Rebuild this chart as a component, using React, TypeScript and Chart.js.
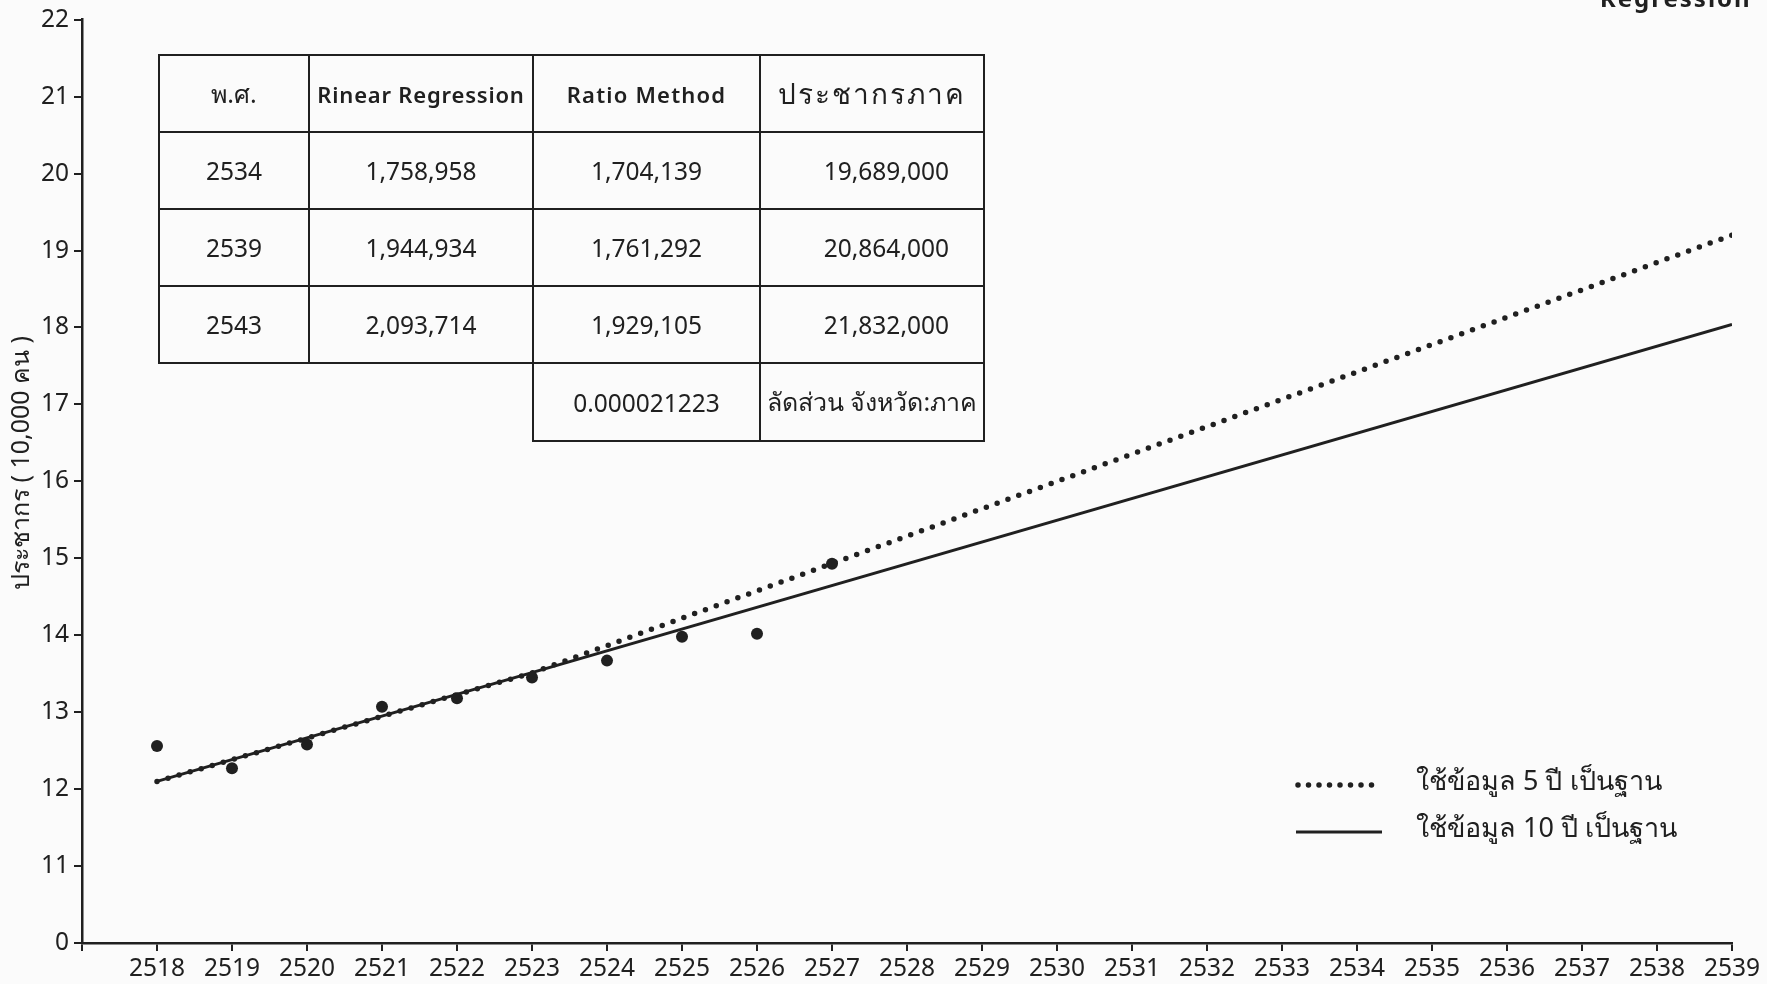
import React, { useEffect, useRef } from "react";
import { Chart, registerables } from "chart.js";

Chart.register(...registerables);

// ---------- data ----------
const observedYears = [2518, 2519, 2520, 2521, 2522, 2523, 2524, 2525, 2526, 2527];
const observedValues = [12.56, 12.27, 12.58, 13.07, 13.18, 13.45, 13.67, 13.98, 14.02, 14.93];

const fiveYearYears = [2518, 2523, 2539];
const fiveYearValues = [12.1, 13.51, 19.2];

const tenYearYears = [2518, 2539];
const tenYearValues = [12.1, 18.04];

const xMin = 2517;
const xMax = 2539;
const yMin = 10; // shown as "0" (broken axis)
const yMax = 22;
const yBreakLabel = "0";

const yAxisTitle = "ประชากร ( 10,000 คน )";
const legendLabels = ["ใช้ข้อมูล 5 ปี เป็นฐาน", "ใช้ข้อมูล 10 ปี เป็นฐาน"];
const topRightText = "Regression";

const tableHeader = ["พ.ศ.", "Rinear Regression", "Ratio Method", "ประชากรภาค"];
const tableYears = ["2534", "2539", "2543"];
const tableLinear = ["1,758,958", "1,944,934", "2,093,714"];
const tableRatio = ["1,704,139", "1,761,292", "1,929,105"];
const tableRegion = ["19,689,000", "20,864,000", "21,832,000"];
const ratioValue = "0.000021223";
const ratioLabel = "ลัดส่วน จังหวัด:ภาค";

// ---------- styles ----------
const INK = "#202020";
const PAPER = "#fbfbfb";
const FONT = '"Noto Sans", "DejaVu Sans", sans-serif';

const overlayPlugin = {
  id: "manualLegendAndTitle",
  afterDraw(chart: any) {
    const ctx = chart.ctx as CanvasRenderingContext2D;
    ctx.save();
    ctx.strokeStyle = INK;
    ctx.fillStyle = INK;
    // dotted sample
    ctx.lineWidth = 5.5;
    ctx.lineCap = "round";
    ctx.setLineDash([0, 10.5]);
    ctx.beginPath();
    ctx.moveTo(1298, 785);
    ctx.lineTo(1382, 785);
    ctx.stroke();
    // solid sample
    ctx.setLineDash([]);
    ctx.lineCap = "butt";
    ctx.lineWidth = 3;
    ctx.beginPath();
    ctx.moveTo(1296, 832);
    ctx.lineTo(1382, 832);
    ctx.stroke();
    ctx.font = `27px ${FONT}`;
    ctx.textBaseline = "middle";
    ctx.textAlign = "left";
    ctx.fillText(legendLabels[0], 1416, 782);
    ctx.fillText(legendLabels[1], 1416, 829);
    // y-axis title
    ctx.translate(22, 463);
    ctx.rotate(-Math.PI / 2);
    ctx.textAlign = "center";
    ctx.font = `25px ${FONT}`;
    ctx.fillText(yAxisTitle, 0, 0);
    ctx.restore();
  },
};

function DataTable() {
  const cell: React.CSSProperties = {
    border: `2.5px solid ${INK}`,
    textAlign: "center",
    padding: 0,
    height: 77,
    boxSizing: "border-box",
    whiteSpace: "nowrap",
  };
  const right: React.CSSProperties = { ...cell, textAlign: "right", paddingRight: 34 };
  const headerStyles: React.CSSProperties[] = [
    { fontSize: 25 },
    { fontSize: 22, fontWeight: 600, letterSpacing: 0.8 },
    { fontSize: 22, fontWeight: 600, letterSpacing: 1.2 },
    { fontSize: 28, letterSpacing: 2 },
  ];
  return (
    <table
      style={{
        position: "absolute",
        left: 158,
        top: 54,
        borderCollapse: "collapse",
        tableLayout: "fixed",
        fontFamily: FONT,
        fontSize: 24.5,
        color: INK,
      }}
    >
      <colgroup>
        <col style={{ width: 150 }} />
        <col style={{ width: 224 }} />
        <col style={{ width: 227 }} />
        <col style={{ width: 224 }} />
      </colgroup>
      <tbody>
        <tr>
          {tableHeader.map((h, i) => (
            <td key={h} style={{ ...cell, ...headerStyles[i] }}>
              {h}
            </td>
          ))}
        </tr>
        {tableYears.map((y, r) => (
          <tr key={y}>
            <td style={cell}>{y}</td>
            <td style={cell}>{tableLinear[r]}</td>
            <td style={cell}>{tableRatio[r]}</td>
            <td style={right}>{tableRegion[r]}</td>
          </tr>
        ))}
        <tr>
          <td colSpan={2} style={{ padding: 0, height: 77, borderLeft: "none", borderBottom: "none" }} />
          <td style={cell}>{ratioValue}</td>
          <td style={{ ...cell, fontSize: 25 }}>{ratioLabel}</td>
        </tr>
      </tbody>
    </table>
  );
}

export default function App() {
  const canvasRef = useRef<HTMLCanvasElement | null>(null);

  useEffect(() => {
    const canvas = canvasRef.current;
    if (!canvas) return;
    const chart = new Chart(canvas, {
      type: "scatter",
      data: {
        datasets: [
          {
            label: "observed",
            data: observedYears.map((x, i) => ({ x, y: observedValues[i] })),
            showLine: false,
            pointRadius: 6,
            pointBackgroundColor: INK,
            pointBorderColor: INK,
            pointBorderWidth: 0,
          },
          {
            label: legendLabels[0],
            data: fiveYearYears.map((x, i) => ({ x, y: fiveYearValues[i] })),
            showLine: true,
            pointRadius: 0,
            borderColor: INK,
            borderWidth: 5.5,
            borderDash: [0, 11.5],
            borderCapStyle: "round",
            tension: 0,
          },
          {
            label: legendLabels[1],
            data: tenYearYears.map((x, i) => ({ x, y: tenYearValues[i] })),
            showLine: true,
            pointRadius: 0,
            borderColor: INK,
            borderWidth: 3,
            tension: 0,
          },
        ],
      },
      options: {
        responsive: false,
        animation: false,
        devicePixelRatio: 1,
        layout: { padding: { top: 17, right: 35, bottom: 0, left: 0 } },
        plugins: {
          legend: { display: false },
          tooltip: { enabled: false },
        },
        scales: {
          x: {
            type: "linear",
            min: xMin,
            max: xMax,
            ticks: {
              stepSize: 1,
              autoSkip: false,
              maxRotation: 0,
              color: INK,
              padding: 3,
              font: { family: FONT, size: 24.5 },
              callback: (v: any) => (v === xMin ? "" : String(v)),
            },
            grid: { drawOnChartArea: false, drawTicks: true, tickLength: 8, color: INK, lineWidth: 2 },
            border: { display: true, color: INK, width: 2.5 },
            afterFit: (s: any) => {
              s.height = 41;
            },
          },
          y: {
            min: yMin,
            max: yMax,
            ticks: {
              stepSize: 1,
              autoSkip: false,
              color: INK,
              padding: 5,
              font: { family: FONT, size: 24.5 },
              callback: (v: any) => (v === yMin ? yBreakLabel : String(v)),
            },
            grid: { drawOnChartArea: false, drawTicks: true, tickLength: 8, color: INK, lineWidth: 2 },
            border: { display: true, color: INK, width: 2.5 },
            title: { display: false },
            afterFit: (s: any) => {
              s.width = 82;
            },
          },
        },
      },
      plugins: [overlayPlugin],
    } as any);
    return () => chart.destroy();
  }, []);

  return (
    <div
      style={{
        position: "absolute",
        left: 0,
        top: 0,
        width: 1767,
        height: 984,
        background: PAPER,
        overflow: "hidden",
      }}
    >
      <canvas ref={canvasRef} width={1767} height={984} style={{ display: "block", width: 1767, height: 984 }} />
      <DataTable />
      <div
        style={{
          position: "absolute",
          left: 1600,
          top: -19,
          fontFamily: FONT,
          fontWeight: 700,
          fontSize: 24,
          letterSpacing: 2,
          color: INK,
          whiteSpace: "nowrap",
        }}
      >
        {topRightText}
      </div>
    </div>
  );
}
